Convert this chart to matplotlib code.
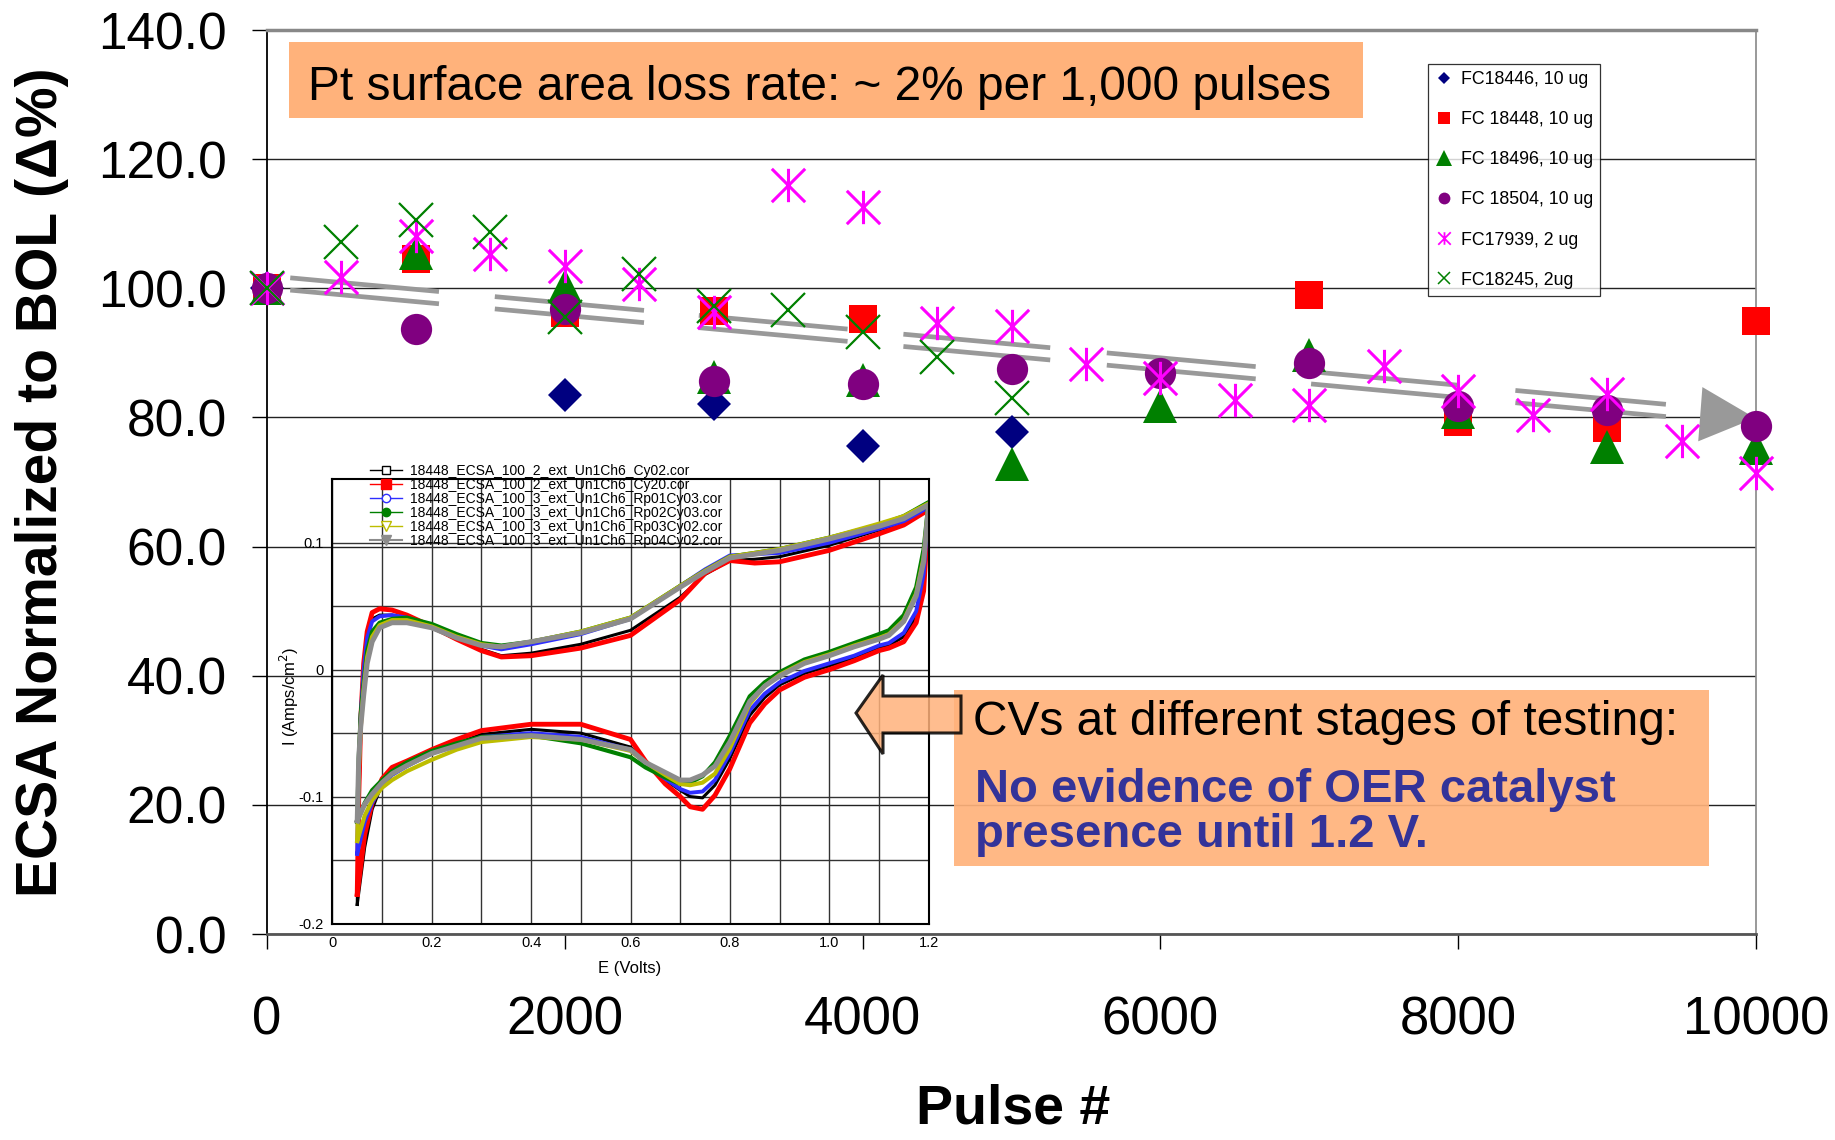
import numpy as np
import matplotlib.pyplot as plt
from matplotlib.path import Path
from matplotlib.lines import Line2D
from matplotlib.patches import Polygon, Rectangle
from matplotlib.ticker import FixedLocator

plt.rcParams['font.family'] = ['Liberation Sans', 'DejaVu Sans']

# ECSA (% of BOL) vs pulse count, one list per cell
fc18446_x = [0, 2000, 3000, 4000, 5000]
fc18446_y = [100.0, 83.4, 82.1, 75.6, 77.8]
fc18448_x = [0, 1000, 2000, 3000, 4000, 7000, 8000, 9000, 10000]
fc18448_y = [100.0, 104.5, 96.1, 96.5, 95.2, 99.0, 79.3, 78.4, 94.9]
fc18496_x = [0, 1000, 2000, 3000, 4000, 5000, 6000, 7000, 8000, 9000, 10000]
fc18496_y = [100.0, 105.5, 100.4, 86.2, 85.8, 72.8, 81.7, 89.6, 80.9, 75.4, 75.3]
fc18504_x = [0, 1000, 2000, 3000, 4000, 5000, 6000, 7000, 8000, 9000, 10000]
fc18504_y = [100.0, 93.7, 96.8, 85.7, 85.1, 87.5, 86.9, 88.4, 81.7, 81.2, 78.7]
fc17939_x = [0, 500, 1000, 1500, 2000, 2500, 3000, 3500, 4000, 4500, 5000,
             5500, 6000, 6500, 7000, 7500, 8000, 8500, 9000, 9500, 10000]
fc17939_y = [100.0, 101.8, 108.1, 105.3, 103.5, 100.7, 96.4, 116.0, 112.6, 94.6, 94.1,
             88.3, 86.1, 82.7, 82.0, 88.0, 84.1, 80.3, 83.6, 76.3, 71.4]
fc18245_x = [0, 500, 1000, 1500, 2000, 2500, 3000, 3500, 4000, 4500, 5000]
fc18245_y = [100.0, 107.1, 110.6, 108.7, 95.6, 102.2, 97.2, 96.6, 93.2, 89.4, 83.0]

series_labels = ['FC18446, 10 ug', 'FC 18448, 10 ug', 'FC 18496, 10 ug',
                 'FC 18504, 10 ug', 'FC17939, 2 ug', 'FC18245, 2ug']

# loss-rate guide: ~2% per 1000 pulses
trend_y0 = 101.0
trend_rate = 2.12
trend_seg_start = [156, 1530, 2900, 4274, 5640, 7012, 8384]
trend_seg_end = [1155, 2532, 3899, 5260, 6640, 8000, 9395]

# CVs for FC 18448 (E in V, I in A/cm2)
E_anodic = [0.05, 0.053, 0.057, 0.063, 0.07, 0.08, 0.095, 0.12, 0.15, 0.2, 0.25, 0.3,
            0.34, 0.4, 0.5, 0.6, 0.7, 0.75, 0.8, 0.85, 0.9, 1.0, 1.1, 1.15, 1.2]
E_cathodic = [1.2, 1.19, 1.175, 1.15, 1.12, 1.1, 1.05, 1.0, 0.95, 0.9, 0.87, 0.84, 0.8,
              0.77, 0.745, 0.72, 0.7, 0.67, 0.63, 0.6, 0.5, 0.4, 0.3, 0.25, 0.2, 0.15,
              0.12, 0.1, 0.08, 0.065, 0.05]

cy02_an = [-0.185, -0.11, -0.05, -0.005, 0.025, 0.040, 0.043, 0.043, 0.040, 0.033, 0.024, 0.016,
           0.011, 0.013, 0.020, 0.031, 0.057, 0.075, 0.086, 0.087, 0.089, 0.098, 0.110, 0.116, 0.128]
cy02_ca = [0.128, 0.070, 0.042, 0.026, 0.019, 0.017, 0.009, 0.003, -0.003, -0.012, -0.022, -0.036,
           -0.070, -0.091, -0.101, -0.100, -0.095, -0.087, -0.074, -0.061, -0.050, -0.047, -0.051,
           -0.058, -0.066, -0.076, -0.082, -0.090, -0.110, -0.140, -0.185]
cy20_an = [-0.177, -0.10, -0.04, 0.005, 0.030, 0.045, 0.048, 0.047, 0.043, 0.034, 0.024, 0.015,
           0.010, 0.011, 0.017, 0.027, 0.055, 0.076, 0.086, 0.084, 0.085, 0.094, 0.107, 0.114, 0.126]
cy20_ca = [0.126, 0.062, 0.037, 0.022, 0.017, 0.015, 0.007, 0.000, -0.006, -0.016, -0.027, -0.042,
           -0.078, -0.099, -0.110, -0.108, -0.100, -0.090, -0.072, -0.055, -0.043, -0.043, -0.048,
           -0.055, -0.063, -0.072, -0.077, -0.086, -0.105, -0.130, -0.177]
rp01_an = [-0.145, -0.08, -0.035, 0.0, 0.025, 0.038, 0.042, 0.043, 0.041, 0.034, 0.026, 0.019,
           0.016, 0.020, 0.028, 0.040, 0.066, 0.079, 0.090, 0.091, 0.092, 0.100, 0.111, 0.117, 0.128]
rp01_ca = [0.128, 0.075, 0.046, 0.029, 0.021, 0.019, 0.011, 0.005, -0.001, -0.010, -0.019, -0.032,
           -0.066, -0.087, -0.096, -0.097, -0.094, -0.086, -0.074, -0.063, -0.053, -0.050, -0.053,
           -0.059, -0.066, -0.076, -0.083, -0.091, -0.105, -0.120, -0.145]
rp02_an = [-0.120, -0.07, -0.035, -0.010, 0.015, 0.030, 0.037, 0.040, 0.041, 0.036, 0.028, 0.021,
           0.019, 0.022, 0.030, 0.041, 0.066, 0.078, 0.089, 0.092, 0.095, 0.104, 0.114, 0.121, 0.132]
rp02_ca = [0.132, 0.095, 0.065, 0.043, 0.031, 0.028, 0.021, 0.014, 0.008, -0.002, -0.010, -0.021,
           -0.052, -0.073, -0.084, -0.089, -0.090, -0.085, -0.077, -0.069, -0.058, -0.052, -0.053,
           -0.058, -0.064, -0.073, -0.080, -0.087, -0.095, -0.105, -0.120]
rp03_an = [-0.135, -0.08, -0.045, -0.015, 0.010, 0.026, 0.035, 0.039, 0.039, 0.034, 0.026, 0.020,
           0.018, 0.022, 0.030, 0.041, 0.066, 0.078, 0.089, 0.092, 0.095, 0.104, 0.115, 0.121, 0.131]
rp03_ca = [0.131, 0.088, 0.060, 0.039, 0.028, 0.025, 0.019, 0.012, 0.006, -0.004, -0.013, -0.027,
           -0.062, -0.082, -0.089, -0.091, -0.090, -0.083, -0.073, -0.064, -0.055, -0.053, -0.057,
           -0.063, -0.071, -0.080, -0.087, -0.093, -0.103, -0.115, -0.135]
rp04_an = [-0.119, -0.07, -0.045, -0.020, 0.005, 0.022, 0.033, 0.037, 0.037, 0.033, 0.025, 0.019,
           0.018, 0.022, 0.029, 0.040, 0.065, 0.077, 0.088, 0.091, 0.094, 0.103, 0.113, 0.119, 0.130]
rp04_ca = [0.130, 0.085, 0.058, 0.038, 0.027, 0.024, 0.018, 0.011, 0.005, -0.005, -0.013, -0.025,
           -0.057, -0.076, -0.083, -0.087, -0.087, -0.081, -0.073, -0.063, -0.055, -0.052, -0.054,
           -0.060, -0.066, -0.0755, -0.082, -0.089, -0.098, -0.106, -0.119]

cv_names = ['18448_ECSA_100_2_ext_Un1Ch6_Cy02.cor', '18448_ECSA_100_2_ext_Un1Ch6_Cy20.cor',
            '18448_ECSA_100_3_ext_Un1Ch6_Rp01Cy03.cor', '18448_ECSA_100_3_ext_Un1Ch6_Rp02Cy03.cor',
            '18448_ECSA_100_3_ext_Un1Ch6_Rp03Cy02.cor', '18448_ECSA_100_3_ext_Un1Ch6_Rp04Cy02.cor']

W, H = 1835, 1140


def fx(px):
    return px / W


def fy(py):
    return 1 - py / H


# six-armed asterisk like the spreadsheet marker
star = Path([(-1, -1), (1, 1), (-1, 1), (1, -1), (0, -1), (0, 1)],
            [Path.MOVETO, Path.LINETO, Path.MOVETO, Path.LINETO, Path.MOVETO, Path.LINETO])

fig = plt.figure(figsize=(W / 100, H / 100), dpi=100)
ax = fig.add_axes([fx(267), fy(934), fx(1756) - fx(267), fy(30) - fy(934)])

ax.set_xlim(0, 10000)
ax.set_ylim(0, 140)
ax.set_yticks(np.arange(0, 141, 20))
ax.set_yticklabels(['%.1f' % v for v in np.arange(0, 141, 20)])
ax.set_xticks(np.arange(0, 10001, 2000))
ax.tick_params(axis='y', labelsize=37, length=11, width=1, pad=18, direction='out')
ax.tick_params(axis='x', labelsize=38, length=11, width=1, pad=33, direction='out')
ax.yaxis.grid(True, color='#222222', lw=1)
ax.set_axisbelow(True)
ax.spines['top'].set_color('#888888')
ax.spines['top'].set_linewidth(2.5)
ax.spines['right'].set_color('#888888')
ax.spines['right'].set_linewidth(1.2)
ax.spines['bottom'].set_color('#555555')
ax.spines['bottom'].set_linewidth(2)
ax.spines['left'].set_linewidth(1.3)

# trend guide drawn as broken double line with an arrow head
for s, e in zip(trend_seg_start, trend_seg_end):
    ys = trend_y0 - trend_rate * s / 1000
    ye = trend_y0 - trend_rate * e / 1000
    for off in (0.95, -0.95):
        ax.plot([s, e], [ys + off, ye + off], color='#999999', lw=3.4,
                solid_capstyle='butt', zorder=3)
ax.add_patch(Polygon([(9640, 84.7), (9612, 76.3), (9995, 79.9)], closed=True,
                     facecolor='#999999', edgecolor='none', zorder=3))

mk = dict(ls='none', clip_on=False, zorder=4)
ax.plot(fc18446_x, fc18446_y, marker='D', ms=17, color='#000080', mew=0, **mk)
ax.plot(fc18448_x, fc18448_y, marker='s', ms=20, color='#FF0000', mew=0, **mk)
ax.plot(fc18496_x, fc18496_y, marker='^', ms=24, color='#008000', mew=0, **mk)
ax.plot(fc18504_x, fc18504_y, marker='o', ms=22.5, color='#800080', mew=0, **mk)
ax.plot(fc17939_x, fc17939_y, marker=star, ms=24, color='#FF00FF', mew=2.2, **mk)
ax.plot(fc18245_x, fc18245_y, marker='x', ms=24, color='#008000', mew=1.6, **mk)

handles = [
    Line2D([], [], ls='none', marker='D', ms=6.5, color='#000080', mew=0),
    Line2D([], [], ls='none', marker='s', ms=8.5, color='#FF0000', mew=0),
    Line2D([], [], ls='none', marker='^', ms=11, color='#008000', mew=0),
    Line2D([], [], ls='none', marker='o', ms=8.5, color='#800080', mew=0),
    Line2D([], [], ls='none', marker=star, ms=9, color='#FF00FF', mew=1.3),
    Line2D([], [], ls='none', marker='x', ms=9, color='#008000', mew=1.1),
]
leg = ax.legend(handles, series_labels, loc='upper left',
                bbox_to_anchor=(fx(1428), fy(64)), bbox_transform=fig.transFigure,
                fontsize=12.8, frameon=True, fancybox=False, edgecolor='black',
                borderpad=0.4, handlelength=1.0, handletextpad=0.45,
                labelspacing=1.3, borderaxespad=0)
leg.get_frame().set_linewidth(0.9)
leg.set_zorder(6)

fig.text(fx(42), fy(482), 'ECSA Normalized to BOL (\u0394%)', rotation=90,
         ha='center', va='center', fontsize=41, fontweight='bold')
fig.text(fx(1013), fy(1124), 'Pulse #', ha='center', va='baseline',
         fontsize=40, fontweight='bold')

# inset: CVs of FC 18448 at different stages
ins = fig.add_axes([fx(332.4), fy(923.5), fx(928.6) - fx(332.4), fy(479.3) - fy(923.5)])
ins.set_facecolor('none')
cv_sets = [(cy02_an, cy02_ca, '#000000', 2.2), (cy20_an, cy20_ca, '#FF0000', 3.5),
           (rp01_an, rp01_ca, '#2E2EFF', 2.8), (rp02_an, rp02_ca, '#008000', 3.0),
           (rp03_an, rp03_ca, '#BDBD00', 3.0), (rp04_an, rp04_ca, '#8C8C8C', 3.6)]
for an, ca, c, w in cv_sets:
    ins.plot(E_anodic + E_cathodic, an + ca, color=c, lw=w, solid_joinstyle='round')
ins.set_xlim(0, 1.2)
ins.set_ylim(-0.2, 0.15)
ins.xaxis.set_major_locator(FixedLocator([0, 0.2, 0.4, 0.6, 0.8, 1.0, 1.2]))
ins.set_xticklabels(['0', '0.2', '0.4', '0.6', '0.8', '1.0', '1.2'])
ins.xaxis.set_minor_locator(FixedLocator(np.arange(0.1, 1.2, 0.2)))
ins.yaxis.set_major_locator(FixedLocator([-0.2, -0.1, 0, 0.1]))
ins.set_yticklabels(['-0.2', '-0.1', '0', '0.1'])
ins.yaxis.set_minor_locator(FixedLocator([-0.15, -0.05, 0.05]))
ins.grid(True, which='both', color='#333333', lw=1)
ins.tick_params(which='both', length=0, labelsize=10.5)
ins.tick_params(axis='x', pad=9)
ins.tick_params(axis='y', pad=6)
for sp in ins.spines.values():
    sp.set_linewidth(1.5)

cv_handles = [
    Line2D([], [], color='#000000', lw=1, marker='s', ms=6, mfc='white'),
    Line2D([], [], color='#FF0000', lw=1, marker='s', ms=7),
    Line2D([], [], color='#2E2EFF', lw=1, marker='o', ms=6, mfc='white'),
    Line2D([], [], color='#008000', lw=1, marker='o', ms=6),
    Line2D([], [], color='#BDBD00', lw=1, marker='v', ms=7, mfc='white'),
    Line2D([], [], color='#8C8C8C', lw=1.5, marker='v', ms=7),
]
ins.legend(cv_handles, cv_names, loc='upper left', bbox_to_anchor=(fx(370), fy(464)),
           bbox_transform=fig.transFigure, frameon=False, fontsize=10,
           borderpad=0, borderaxespad=0, handlelength=2.3, handletextpad=0.6,
           labelspacing=0.0)
fig.text(fx(289), fy(697), 'I (Amps/cm$^2$)', rotation=90, ha='center', va='center', fontsize=12)
fig.text(fx(630), fy(969), 'E (Volts)', ha='center', va='center', fontsize=12)

# callout boxes
orange = '#FFB27B'
fig.add_artist(Rectangle((fx(289), fy(118)), fx(1363) - fx(289), fy(42) - fy(118),
                         transform=fig.transFigure, facecolor=orange, edgecolor='none', zorder=5))
fig.text(fx(308), fy(99.5), 'Pt surface area loss rate: ~ 2% per 1,000 pulses',
         ha='left', va='baseline', fontsize=34.5, zorder=6)

fig.add_artist(Rectangle((fx(954), fy(866)), fx(1709) - fx(954), fy(690) - fy(866),
                         transform=fig.transFigure, facecolor=orange, edgecolor='none',
                         alpha=0.92, zorder=5))
arrow_px = [(856, 713), (883, 675), (883, 696), (961, 696), (961, 733), (883, 733), (883, 754)]
fig.add_artist(Polygon([(fx(a), fy(b)) for a, b in arrow_px], closed=True,
                       transform=fig.transFigure, facecolor=orange, alpha=0.85,
                       edgecolor='black', lw=2.2, zorder=5))
fig.text(fx(973), fy(735), 'CVs at different stages of testing:', ha='left', va='baseline',
         fontsize=34.5, zorder=6)
fig.text(fx(975), fy(801.7), 'No evidence of OER catalyst', ha='left', va='baseline',
         fontsize=34, fontweight='bold', color='#333399', zorder=6)
fig.text(fx(975), fy(846.7), 'presence until 1.2 V.', ha='left', va='baseline',
         fontsize=34, fontweight='bold', color='#333399', zorder=6)

fig.savefig('out.png', dpi=100)
